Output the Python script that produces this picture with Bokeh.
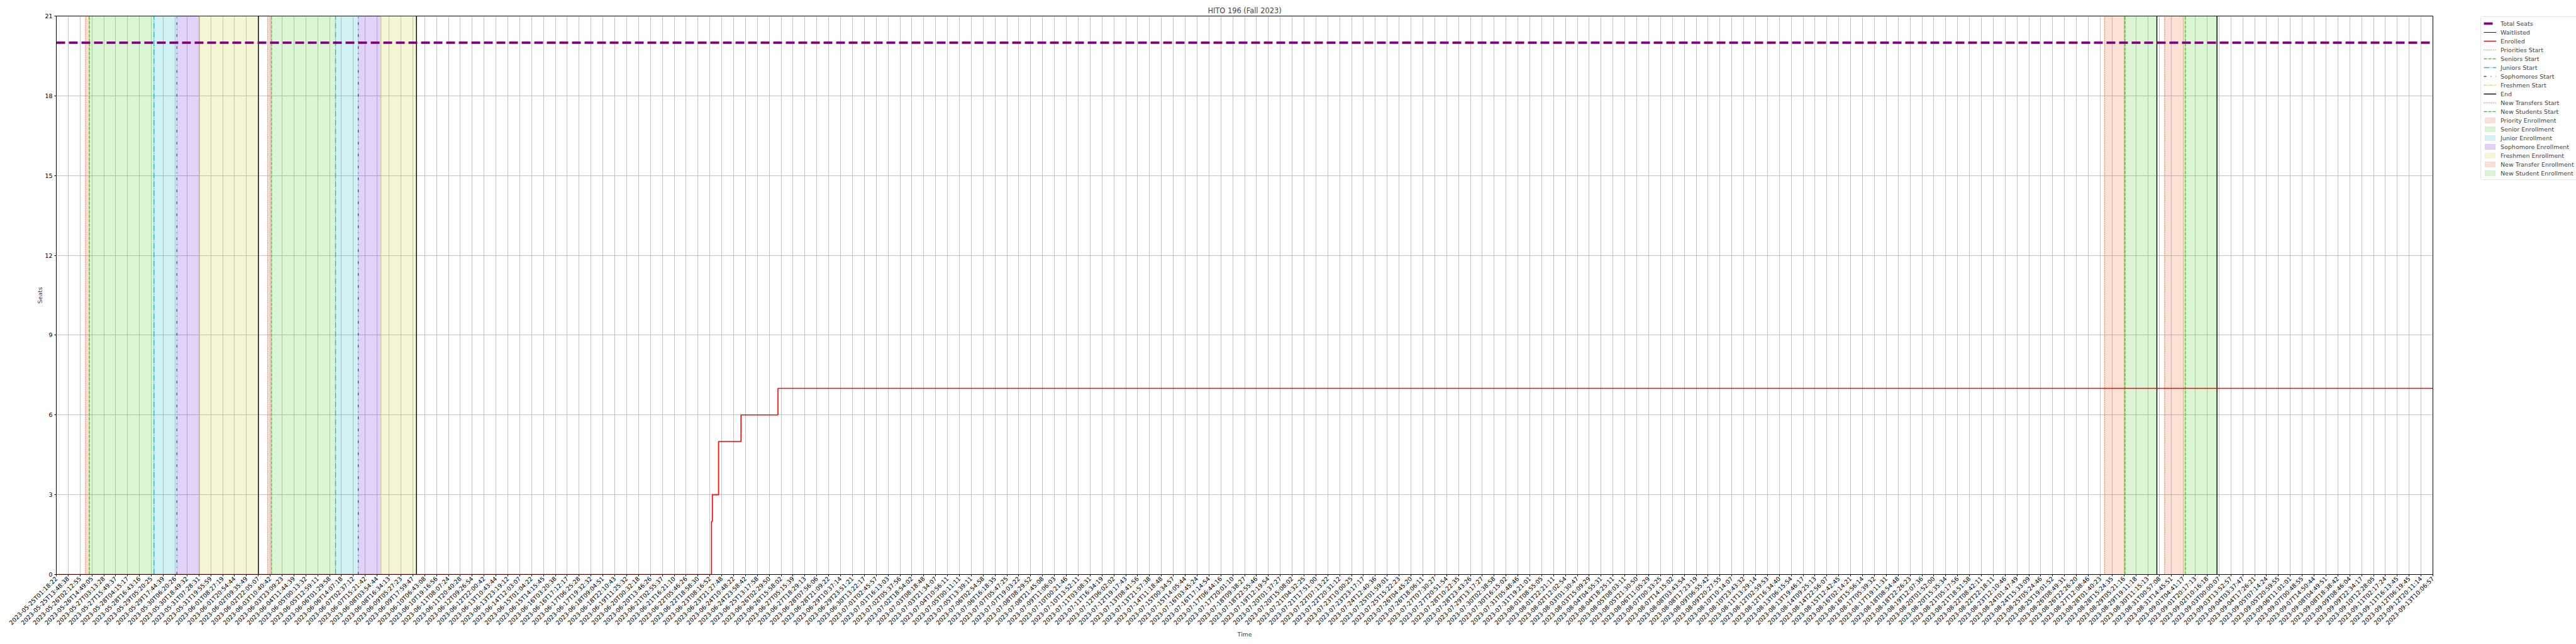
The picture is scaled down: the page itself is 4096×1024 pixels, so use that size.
import math
from bokeh.plotting import figure
from bokeh.layouts import row
from bokeh.models import (ColumnDataSource, FixedTicker, Legend, LegendItem,
                          Range1d)
from bokeh.embed import file_html
from bokeh.resources import INLINE

# ---------------- data ----------------
tick_labels = [
    "2023-05-25T01:18:22", "2023-05-25T13:48:38", "2023-05-26T02:12:55", "2023-05-26T14:49:05",
    "2023-05-27T03:13:28", "2023-05-27T15:49:37", "2023-05-28T04:15:17", "2023-05-28T16:43:16",
    "2023-05-29T05:20:25", "2023-05-29T17:44:39", "2023-05-30T06:20:26", "2023-05-30T18:49:32",
    "2023-05-31T07:28:31", "2023-05-31T19:55:59", "2023-06-01T08:27:19", "2023-06-01T20:54:44",
    "2023-06-02T09:35:49", "2023-06-02T22:05:07", "2023-06-03T10:40:42", "2023-06-03T23:09:23",
    "2023-06-04T11:44:39", "2023-06-05T00:13:32", "2023-06-05T12:59:11", "2023-06-06T01:29:58",
    "2023-06-06T14:07:18", "2023-06-07T02:37:12", "2023-06-07T15:21:42", "2023-06-08T03:54:44",
    "2023-06-08T16:34:13", "2023-06-09T05:27:23", "2023-06-09T17:59:47", "2023-06-10T06:43:08",
    "2023-06-10T19:16:56", "2023-06-11T08:07:24", "2023-06-11T20:40:28", "2023-06-12T09:26:54",
    "2023-06-12T22:00:42", "2023-06-13T10:43:44", "2023-06-13T23:19:12", "2023-06-14T12:03:07",
    "2023-06-15T01:04:22", "2023-06-15T14:15:45", "2023-06-16T03:20:38", "2023-06-16T17:12:17",
    "2023-06-17T06:25:28", "2023-06-17T19:32:32", "2023-06-18T09:04:51", "2023-06-18T22:10:43",
    "2023-06-19T11:25:32", "2023-06-20T00:32:18", "2023-06-20T13:46:26", "2023-06-21T02:55:37",
    "2023-06-21T16:21:10", "2023-06-22T05:46:26", "2023-06-22T18:58:30", "2023-06-23T08:16:52",
    "2023-06-23T21:27:48", "2023-06-24T10:48:22", "2023-06-24T23:58:42", "2023-06-25T13:17:58",
    "2023-06-26T02:29:50", "2023-06-26T15:58:02", "2023-06-27T05:15:39", "2023-06-27T18:29:13",
    "2023-06-28T07:56:06", "2023-06-28T21:09:22", "2023-06-29T10:37:14", "2023-06-29T23:51:21",
    "2023-06-30T13:22:17", "2023-07-01T02:45:57", "2023-07-01T16:13:03", "2023-07-02T05:37:56",
    "2023-07-02T18:54:02", "2023-07-03T08:18:48", "2023-07-03T21:34:07", "2023-07-04T10:56:11",
    "2023-07-05T00:11:11", "2023-07-05T13:39:11", "2023-07-06T02:54:58", "2023-07-06T16:18:35",
    "2023-07-07T05:47:25", "2023-07-07T19:03:22", "2023-07-08T08:29:52", "2023-07-08T21:45:08",
    "2023-07-09T11:06:03", "2023-07-10T00:21:46", "2023-07-10T13:52:11", "2023-07-11T03:08:31",
    "2023-07-11T16:34:19", "2023-07-12T06:02:02", "2023-07-12T19:17:43", "2023-07-13T08:41:56",
    "2023-07-13T21:57:38", "2023-07-14T11:18:48", "2023-07-15T00:34:57", "2023-07-15T14:05:44",
    "2023-07-16T03:45:24", "2023-07-16T17:14:54", "2023-07-17T06:44:16", "2023-07-17T20:01:10",
    "2023-07-18T09:38:27", "2023-07-18T22:55:46", "2023-07-19T12:19:54", "2023-07-20T01:37:27",
    "2023-07-20T15:08:02", "2023-07-21T04:32:25", "2023-07-21T17:51:00", "2023-07-22T07:13:22",
    "2023-07-22T20:31:12", "2023-07-23T10:00:25", "2023-07-23T23:17:17", "2023-07-24T12:40:36",
    "2023-07-25T01:59:01", "2023-07-25T15:22:23", "2023-07-26T04:45:20", "2023-07-26T18:06:11",
    "2023-07-27T07:30:27", "2023-07-27T20:51:54", "2023-07-28T10:22:35", "2023-07-28T23:43:26",
    "2023-07-29T13:17:27", "2023-07-30T02:38:58", "2023-07-30T16:15:02", "2023-07-31T05:48:46",
    "2023-07-31T19:21:01", "2023-08-01T08:55:05", "2023-08-01T22:21:11", "2023-08-02T12:02:54",
    "2023-08-03T01:30:47", "2023-08-03T15:09:29", "2023-08-04T04:55:31", "2023-08-04T18:25:11",
    "2023-08-05T08:03:11", "2023-08-05T21:30:50", "2023-08-06T11:05:29", "2023-08-07T00:33:25",
    "2023-08-07T14:15:02", "2023-08-08T03:43:54", "2023-08-08T17:23:19", "2023-08-09T06:55:42",
    "2023-08-09T20:27:55", "2023-08-10T10:14:07", "2023-08-10T23:43:32", "2023-08-11T13:29:14",
    "2023-08-12T02:59:53", "2023-08-12T16:34:40", "2023-08-13T06:15:54", "2023-08-13T19:46:17",
    "2023-08-14T09:25:13", "2023-08-14T22:56:07", "2023-08-15T12:42:45", "2023-08-16T02:14:21",
    "2023-08-16T15:56:14", "2023-08-17T05:39:32", "2023-08-17T19:11:31", "2023-08-18T08:54:48",
    "2023-08-18T22:26:23", "2023-08-19T12:07:36", "2023-08-20T01:52:00", "2023-08-20T15:35:34",
    "2023-08-21T05:17:56", "2023-08-21T18:51:58", "2023-08-22T08:42:11", "2023-08-22T22:18:11",
    "2023-08-23T12:10:46", "2023-08-24T01:47:49", "2023-08-24T15:33:09", "2023-08-25T05:24:46",
    "2023-08-25T19:01:52", "2023-08-26T08:49:31", "2023-08-26T22:26:20", "2023-08-27T12:08:46",
    "2023-08-28T01:40:23", "2023-08-28T15:24:35", "2023-08-29T05:21:16", "2023-08-29T19:11:18",
    "2023-08-30T11:15:13", "2023-08-31T00:57:08", "2023-08-31T14:45:51", "2023-09-01T04:41:17",
    "2023-09-01T20:17:13", "2023-09-02T10:16:18", "2023-09-03T00:00:07", "2023-09-03T13:52:57",
    "2023-09-04T03:37:47", "2023-09-04T17:26:21", "2023-09-05T07:14:24", "2023-09-05T20:59:55",
    "2023-09-06T11:01:01", "2023-09-07T00:48:55", "2023-09-07T14:50:44", "2023-09-08T04:49:51",
    "2023-09-08T18:38:42", "2023-09-09T08:46:04", "2023-09-09T22:34:17", "2023-09-10T12:28:05",
    "2023-09-11T02:17:24", "2023-09-11T16:13:45", "2023-09-12T06:19:45", "2023-09-12T20:11:14",
    "2023-09-13T10:06:57",
]
y_ticks = [0, 3, 6, 9, 12, 15, 18, 21]

total_seats = 20
# enrolled count (step after), x in tick-index units
enrolled_x = [0, 55.14, 55.21, 55.73, 57.62, 60.73, 200]
enrolled_y = [0, 2, 3, 5, 6, 7, 7]
waitlisted_x = [0, 200]
waitlisted_y = [0, 0]

# event times (tick-index units)
priorities_start = [2.46, 17.79]
seniors_start = [2.78, 18.11]
juniors_start = [8.22, 23.50]
sophomores_start = [10.15, 25.41]
freshmen_start = [12.06, 27.32]
end_times = [17.01, 30.31, 176.77, 181.83]
new_transfers_start = [172.37, 177.42]
new_students_start = [174.09, 179.16]

# ---------------- styling ----------------
FONT = "DejaVu Sans"
C_PRI = "#e8642c"
C_SEN = "#44cc22"
C_JUN = "#17becf"
C_SOP = "#6a22d8"
C_FRE = "#d8d830"
C_FRE_SHADE = "#c8d228"
C_END = "#000000"

n = len(tick_labels)
y_lo, y_hi = 0, 21
TOP, BOTTOM = 25, 111

p = figure(width=3900, height=1024, output_backend="svg", toolbar_location=None,
           x_range=Range1d(0, n - 1), y_range=Range1d(y_lo, y_hi),
           min_border_left=89, min_border_right=32, min_border_top=TOP,
           min_border_bottom=BOTTOM)
p.background_fill_color = "white"
p.border_fill_color = "white"
p.outline_line_color = "black"
p.outline_line_width = 1.0

p.title.text = "HITO 196 (Fall 2023)"
p.title.align = "center"
p.title.text_font = FONT
p.title.text_font_size = "11.4px"
p.title.text_font_style = "normal"
p.title.standoff = 3
p.title.offset = 0

# axes
p.xaxis.ticker = FixedTicker(ticks=list(range(n)))
p.xaxis.major_label_overrides = {i: lab for i, lab in enumerate(tick_labels)}
p.xaxis.major_label_orientation = math.pi / 4
p.yaxis.ticker = FixedTicker(ticks=y_ticks)
for ax in (p.xaxis[0], p.yaxis[0]):
    ax.major_label_text_font = FONT
    ax.major_label_text_font_size = "9.5px"
    ax.major_label_text_color = "black"
    ax.axis_label_text_font = FONT
    ax.axis_label_text_font_size = "9.5px"
    ax.axis_label_text_font_style = "normal"
    ax.major_tick_in = 0
    ax.major_tick_out = 3
    ax.minor_tick_line_color = None
    ax.axis_line_color = "black"
    ax.major_tick_line_color = "black"
    ax.major_label_standoff = 3
p.xaxis.major_label_standoff = 2
p.xaxis.axis_label = "Time"
p.yaxis.axis_label = "Seats"
p.xaxis.axis_label_standoff = 0
p.yaxis.axis_label_standoff = -1

p.xgrid.grid_line_color = "#b0b0b0"
p.ygrid.grid_line_color = "#b0b0b0"
p.xgrid.grid_line_width = 0.75
p.ygrid.grid_line_width = 0.75

# legend holder figure (to the right of the chart)
q = figure(width=196, height=1024, output_backend="svg", toolbar_location=None,
           x_range=Range1d(0, 1), y_range=Range1d(0, 1),
           x_axis_type=None, y_axis_type=None,
           min_border_left=0, min_border_right=0, min_border_top=TOP,
           min_border_bottom=BOTTOM)
q.outline_line_color = None
q.xgrid.visible = False
q.ygrid.visible = False
q.border_fill_color = "white"
q.background_fill_color = "white"

# shaded enrollment periods
shade_specs = [
    ("Priority Enrollment", priorities_start, seniors_start, C_PRI),
    ("Senior Enrollment", seniors_start, juniors_start, C_SEN),
    ("Junior Enrollment", juniors_start, sophomores_start, C_JUN),
    ("Sophomore Enrollment", sophomores_start, freshmen_start, C_SOP),
    ("Freshmen Enrollment", freshmen_start, end_times[:2], C_FRE_SHADE),
    ("New Transfer Enrollment", new_transfers_start, new_students_start, C_PRI),
    ("New Student Enrollment", new_students_start, end_times[2:], C_SEN),
]
shade_items = []
for label, st, en, col in shade_specs:
    style = dict(fill_color=col, fill_alpha=0.2, line_color=col, line_alpha=0.2, line_width=0.8)
    p.quad(left="left", right="right", bottom=y_lo, top=y_hi,
           source=ColumnDataSource(dict(left=list(st), right=list(en))), **style)
    r = q.quad(left=[-3], right=[-2], bottom=[-3], top=[-2], **style)
    shade_items.append(LegendItem(label=label, renderers=[r]))

# event lines
def vlines(fig, xs, y0, y1, color, dash, width=1.4):
    src = ColumnDataSource(dict(x=list(xs), y0=[y0] * len(xs), y1=[y1] * len(xs)))
    r = fig.segment(x0="x", x1="x", y0="y0", y1="y1", source=src,
                    line_color=color, line_width=width)
    r.glyph.line_dash = dash
    return r

line_specs = [
    ("Priorities Start", priorities_start, C_PRI, [1, 2]),
    ("Seniors Start", seniors_start, C_SEN, [5, 2]),
    ("Juniors Start", juniors_start, C_JUN, [9, 2, 1, 2]),
    ("Sophomores Start", sophomores_start, C_SOP, [4, 7, 1, 7]),
    ("Freshmen Start", freshmen_start, C_FRE, [4, 1, 1, 1, 1, 1]),
    ("End", end_times, C_END, []),
    ("New Transfers Start", new_transfers_start, C_PRI, [1, 2]),
    ("New Students Start", new_students_start, C_SEN, [5, 2]),
]
line_items = []
for label, xs, col, dash in line_specs:
    vlines(p, xs, y_lo, y_hi, col, dash)
    r = vlines(q, [-3], -3, -2, col, dash)
    line_items.append(LegendItem(label=label, renderers=[r]))

# series
total_style = dict(line_color="#800080", line_width=3.8, line_dash="14 6")
wait_style = dict(line_color="blue", line_width=1.0)
enr_style = dict(line_color="red", line_width=1.6)
p.line([0, n - 1], [total_seats, total_seats], **total_style)
p.step(waitlisted_x, waitlisted_y, mode="after", **wait_style)
p.step(enrolled_x, enrolled_y, mode="after", **enr_style)
r_total = q.line([-3, -2], [-3, -3], **total_style)
r_wait = q.line([-3, -2], [-3, -3], **wait_style)
r_enr = q.line([-3, -2], [-3, -3], **enr_style)

items = [LegendItem(label="Total Seats", renderers=[r_total]),
         LegendItem(label="Waitlisted", renderers=[r_wait]),
         LegendItem(label="Enrolled", renderers=[r_enr])] + line_items + shade_items

legend = Legend(items=items, location=(44, 627))
legend.label_text_font = FONT
legend.label_text_font_size = "9.5px"
legend.glyph_width = 20
legend.glyph_height = 10
legend.label_height = 12
legend.spacing = 2
legend.padding = 4
legend.margin = 0
legend.label_standoff = 7
legend.border_line_color = "#cccccc"
legend.border_line_width = 1
legend.background_fill_alpha = 0.8
legend.border_radius = 3
q.add_layout(legend)

layout = row(p, q)
open("out.html", "w").write(file_html(layout, INLINE))
